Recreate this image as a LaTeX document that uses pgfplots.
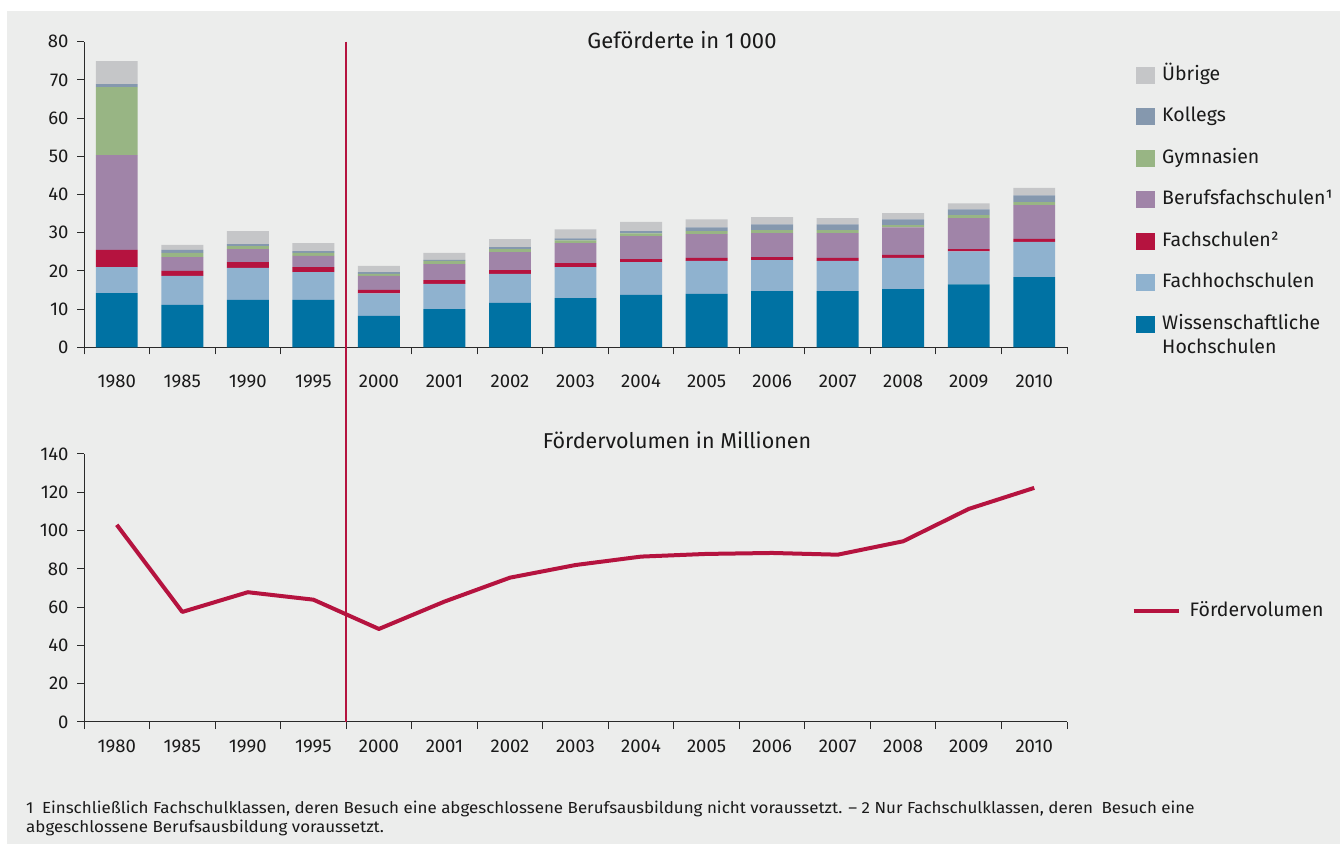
\documentclass[border=0pt]{standalone}
\usepackage{fontspec}
\setmainfont{Fira Sans}
\usepackage{pgfplots}
\usepackage{pgfplotstable}
\pgfplotsset{compat=1.18}
\definecolor{bg}{HTML}{ECEDEC}
\definecolor{cW}{HTML}{0072A3}
\definecolor{cFH}{HTML}{8FB2CF}
\definecolor{cFS}{HTML}{B5133F}
\definecolor{cBF}{HTML}{A084A8}
\definecolor{cG}{HTML}{98B584}
\definecolor{cK}{HTML}{8598AE}
\definecolor{cU}{HTML}{C5C6C8}
\definecolor{txt}{HTML}{1A1A1A}
\definecolor{axc}{HTML}{2A2A2A}

\pgfplotstableread{
x  W    FH   FS   BF   G    K    U
0  14.2 6.8  4.5  24.8 17.8 0.8  6.0
1  11.1 7.6  1.3  3.6  1.1  0.8  1.3
2  12.4 8.4  1.5  3.4  0.8  0.5  3.4
3  12.4 7.3  1.3  2.9  0.8  0.5  2.1
4  8.2  5.9  0.9  3.7  0.5  0.5  1.6
5  10.0 6.6  1.0  4.2  0.8  0.3  1.8
6  11.6 7.6  1.0  4.7  0.8  0.5  2.1
7  12.9 8.1  1.0  5.3  0.7  0.5  2.4
8  13.7 8.6  0.8  6.0  0.7  0.6  2.4
9  14.0 8.6  0.8  6.2  0.8  1.0  2.1
10 14.7 8.1  0.8  6.3  0.8  1.5  1.9
11 14.7 7.9  0.8  6.5  0.8  1.5  1.6
12 15.2 8.2  0.8  7.2  0.6  1.5  1.6
13 16.5 8.6  0.6  8.1  0.8  1.5  1.6
14 18.4 9.2  0.8  8.8  0.8  1.8  1.9
}\bars

\pgfplotstableread{
x  V
0  103.0
1  57.5
2  67.8
3  63.9
4  48.6
5  62.9
6  75.4
7  82.0
8  86.4
9  87.8
10 88.3
11 87.4
12 94.4
13 111.3
14 122.3
}\vol

\pgfplotsset{
  common/.style={
    scale only axis,
    width=983bp,
    xmin=-0.5, xmax=14.5,
    axis x line*=bottom, axis y line*=left,
    axis line style={axc, line width=1bp},
    tick style={axc, line width=1bp},
    tick align=outside,
    major tick length=7bp,
    xtick={-0.5,0.5,...,14.5},
    x tick label as interval,
    xticklabels={1980,1985,1990,1995,2000,2001,2002,2003,2004,2005,2006,2007,2008,2009,2010},
    ticklabel style={font=\fontsize{18.5bp}{21bp}\selectfont, text=txt},
    /pgf/number format/assume math mode=true,
    yticklabel style={anchor=east, xshift=-5bp},
    clip=false,
  }
}

\begin{document}
\begin{tikzpicture}[x=1bp,y=1bp]
\fill[white] (0,0) rectangle (1340,844);
\fill[bg] (7,0) rectangle (1340,833);

% top chart
\begin{axis}[common,
  at={(84bp,496.7bp)}, anchor=south west,
  height=305.6bp,
  ymin=0, ymax=80, ytick={0,10,...,80},
  ybar stacked, bar width=0.64,
  xticklabel style={yshift=-17bp},
  reverse legend,
  legend cell align=left,
  legend image code/.code={\fill[#1,draw=none] (0bp,-8.5bp) rectangle (19bp,8.5bp);},
  legend style={at={(1.0702,0.921)}, anchor=north west, draw=none, fill=none,
    inner sep=0pt, row sep=23.5bp, column sep=7bp,
    nodes={inner sep=0pt, text height=14bp, text depth=4bp,
      font=\fontsize{19.5bp}{23bp}\selectfont, text=txt}},
]
\addplot[fill=cW, draw=none] table[x=x, y=W] {\bars};
\addlegendentry{\begin{tabular}[t]{@{}l@{}}Wissenschaftliche\\[1bp]Hochschulen\end{tabular}}
\addplot[fill=cFH, draw=none] table[x=x, y=FH] {\bars};
\addlegendentry{Fachhochschulen}
\addplot[fill=cFS, draw=none] table[x=x, y=FS] {\bars};
\addlegendentry{Fachschulen²}
\addplot[fill=cBF, draw=none] table[x=x, y=BF] {\bars};
\addlegendentry{Berufsfachschulen¹}
\addplot[fill=cG, draw=none] table[x=x, y=G] {\bars};
\addlegendentry{Gymnasien}
\addplot[fill=cK, draw=none] table[x=x, y=K] {\bars};
\addlegendentry{Kollegs}
\addplot[fill=cU, draw=none] table[x=x, y=U] {\bars};
\addlegendentry{Übrige}
\coordinate (vt) at (axis cs:3.5,80);
\end{axis}

% bottom chart
\begin{axis}[common,
  at={(84bp,122bp)}, anchor=south west,
  height=268bp,
  ymin=0, ymax=140, ytick={0,20,...,140},
  xticklabel style={yshift=-7bp},
  legend cell align=left,
  legend image code/.code={\draw[#1] (0bp,0bp) -- (45bp,0bp);},
  legend style={at={(1.0656,0.414)}, anchor=west, draw=none, fill=none,
    inner sep=0pt, column sep=9bp,
    nodes={inner sep=0pt, text height=14bp, text depth=4bp,
      font=\fontsize{19.5bp}{23bp}\selectfont, text=txt}},
]
\addplot[cFS, line width=4bp, line join=round] table[x=x, y=V] {\vol};
\addlegendentry{Fördervolumen}
\coordinate (vb) at (axis cs:3.5,0);
\end{axis}

\draw[cFS, line width=2bp] (vt) -- (vb);

\node[text=txt, font=\fontsize{22bp}{25bp}\selectfont] at (682,804) {Geförderte in 1\hspace{5bp}000};
\node[text=txt, font=\fontsize{21.5bp}{25bp}\selectfont] at (677,404) {Fördervolumen in Millionen};

\node[anchor=base west, text=txt, inner sep=0pt, align=left,
  font=\fontsize{16bp}{19bp}\selectfont] at (26,12)
  {\scalebox{1.06}[1]{1\enspace Einschließlich Fachschulklassen, deren Besuch eine abgeschlossene Berufsausbildung nicht voraussetzt. – 2 Nur Fachschulklassen, deren\enspace Besuch eine}\\
   \scalebox{1.06}[1]{abgeschlossene Berufsausbildung voraussetzt.}};
\end{tikzpicture}
\end{document}
